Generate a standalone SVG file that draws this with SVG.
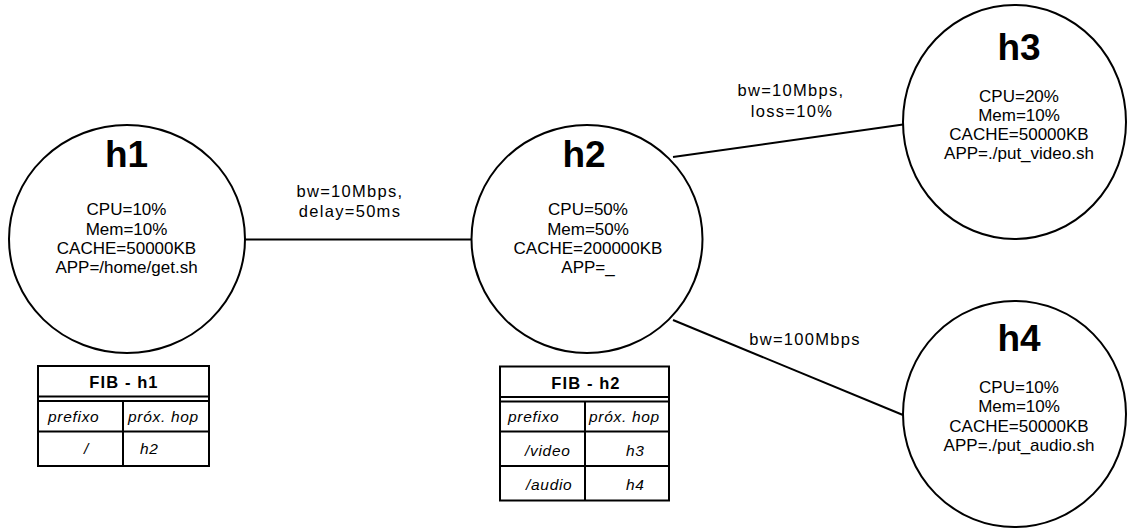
<svg xmlns="http://www.w3.org/2000/svg" width="1128" height="529" viewBox="0 0 1128 529">
<style>
.node{fill:#fff;stroke:#000;stroke-width:2}
.title{font-family:"Liberation Sans",Arial,sans-serif;font-weight:bold;font-size:37px;text-anchor:middle;fill:#000}
.body{font-family:"Liberation Sans",Arial,sans-serif;font-size:17px;text-anchor:middle;fill:#000}
.lbl{font-family:"Liberation Sans",Arial,sans-serif;font-size:16.5px;letter-spacing:1.3px;text-anchor:middle;fill:#000}
.edge{stroke:#000;stroke-width:2;fill:none}
.tbl{fill:#fff;stroke:#000;stroke-width:2}
.tl{stroke:#000;stroke-width:2}
.th{font-family:"Liberation Sans",Arial,sans-serif;font-weight:bold;font-size:16.5px;letter-spacing:1.1px;text-anchor:middle;fill:#000}
.ti{font-family:"Liberation Sans",Arial,sans-serif;font-style:italic;font-size:15.5px;letter-spacing:0.7px;fill:#000}
</style>
<rect width="1128" height="529" fill="#fff"/>
<g id="connectors">
<line class="edge" x1="245" y1="239.5" x2="472" y2="239.5"/>
<line class="edge" x1="673" y1="157" x2="903" y2="124.5"/>
<line class="edge" x1="673" y1="320" x2="903" y2="415"/>
<text class="lbl" x="350" y="197">bw=10Mbps,</text>
<text class="lbl" x="350" y="217">delay=50ms</text>
<text class="lbl" x="791" y="96">bw=10Mbps,</text>
<text class="lbl" x="792" y="117">loss=10%</text>
<text class="lbl" x="805" y="345">bw=100Mbps</text>
</g>
<g id="h1">
<ellipse class="node" cx="127" cy="239" rx="118" ry="114"/>
<text class="title" x="126.5" y="167">h1</text>
<text class="body" x="126.5" y="215">CPU=10%</text>
<text class="body" x="126.5" y="234.5">Mem=10%</text>
<text class="body" x="126.5" y="254">CACHE=50000KB</text>
<text class="body" x="126.5" y="273">APP=/home/get.sh</text>
</g>
<g id="h2">
<ellipse class="node" cx="587" cy="239" rx="115.5" ry="114"/>
<text class="title" x="584" y="167">h2</text>
<text class="body" x="588" y="215">CPU=50%</text>
<text class="body" x="588" y="234.5">Mem=50%</text>
<text class="body" x="588" y="254">CACHE=200000KB</text>
<text class="body" x="588" y="273">APP=_</text>
</g>
<g id="h3">
<ellipse class="node" cx="1014.5" cy="122" rx="111.5" ry="117"/>
<text class="title" x="1019" y="60">h3</text>
<text class="body" x="1019" y="102">CPU=20%</text>
<text class="body" x="1019" y="121">Mem=10%</text>
<text class="body" x="1019" y="140">CACHE=50000KB</text>
<text class="body" x="1019" y="159">APP=./put_video.sh</text>
</g>
<g id="h4">
<ellipse class="node" cx="1014.5" cy="414" rx="111.5" ry="113"/>
<text class="title" x="1019" y="351">h4</text>
<text class="body" x="1019" y="393">CPU=10%</text>
<text class="body" x="1019" y="412">Mem=10%</text>
<text class="body" x="1019" y="431.5">CACHE=50000KB</text>
<text class="body" x="1019" y="451">APP=./put_audio.sh</text>
</g>
<g id="fib-h1">
<rect class="tbl" x="38" y="366" width="171" height="100"/>
<line class="tl" x1="38" y1="396.5" x2="209" y2="396.5"/>
<line class="tl" x1="38" y1="401" x2="209" y2="401"/>
<line class="tl" x1="38" y1="431.5" x2="209" y2="431.5"/>
<line class="tl" x1="123" y1="401" x2="123" y2="466"/>
<text class="th" x="124" y="388">FIB - h1</text>
<text class="ti" x="48" y="421.5">prefixo</text>
<text class="ti" x="128" y="421.5">próx. hop</text>
<text class="ti" x="84" y="454">/</text>
<text class="ti" x="140" y="454">h2</text>
</g>
<g id="fib-h2">
<rect class="tbl" x="500" y="366.5" width="169" height="134"/>
<line class="tl" x1="500" y1="397" x2="669" y2="397"/>
<line class="tl" x1="500" y1="401.5" x2="669" y2="401.5"/>
<line class="tl" x1="500" y1="431.5" x2="669" y2="431.5"/>
<line class="tl" x1="500" y1="466" x2="669" y2="466"/>
<line class="tl" x1="585" y1="401.5" x2="585" y2="500.5"/>
<text class="th" x="586" y="388.5">FIB - h2</text>
<text class="ti" x="508" y="421.5">prefixo</text>
<text class="ti" x="589" y="421.5">próx. hop</text>
<text class="ti" x="525" y="456">/video</text>
<text class="ti" x="626" y="456">h3</text>
<text class="ti" x="526" y="490">/audio</text>
<text class="ti" x="626" y="490">h4</text>
</g>
</svg>
